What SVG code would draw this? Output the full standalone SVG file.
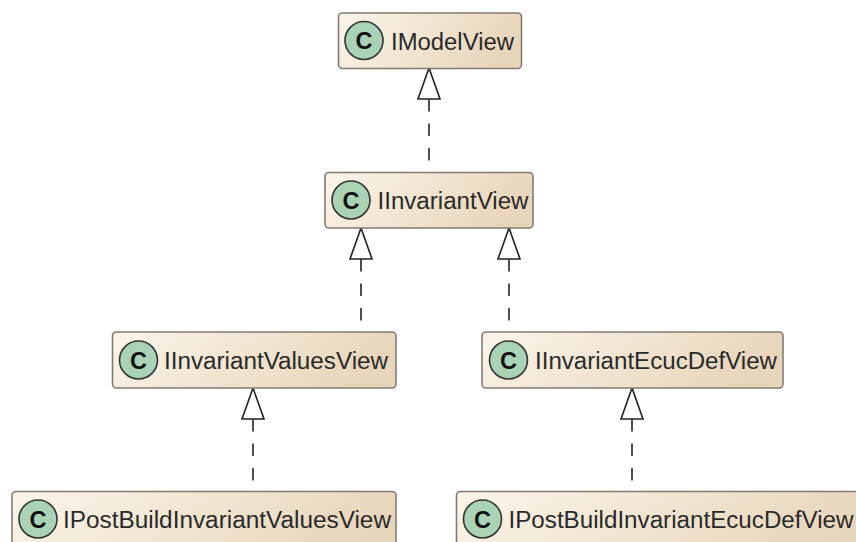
<svg xmlns="http://www.w3.org/2000/svg" width="856" height="542" viewBox="0 0 856 542">
<style>
.box{stroke:#857a72;stroke-width:1.6}
.c{fill:#a9d3b4;stroke:#333;stroke-width:1.6}
.g{font-family:"Liberation Sans",Arial,sans-serif;font-size:23.500px;font-weight:700;fill:#111;text-anchor:middle}
.t{font-family:"Liberation Sans",Arial,sans-serif;font-size:23.500px;fill:#2a2a2a}
.dash{fill:none;stroke:#222;stroke-width:1.6;stroke-dasharray:12.500 12}
.head{fill:#fff;stroke:#222;stroke-width:1.6}
</style>
<defs>
<linearGradient id="fill" x1="0" y1="0" x2="1" y2="0.25"><stop offset="0" stop-color="#fbf5ea"/><stop offset="1" stop-color="#e8d6bc"/></linearGradient>
</defs>
<g id="connectors">
<path class="dash" d="M429 99V162"/><path class="head" d="M429 68L418 99H440Z"/>
<path class="dash" d="M361 259V322"/><path class="head" d="M361 228L350 259H372Z"/>
<path class="dash" d="M509 259V322"/><path class="head" d="M509 228L498 259H520Z"/>
<path class="dash" d="M253 419V482"/><path class="head" d="M253 388L242 419H264Z"/>
<path class="dash" d="M632 419V482"/><path class="head" d="M632 388L621 419H643Z"/>
</g>
<g id="IModelView"><rect class="box" x="338.500" y="13" width="183" height="55.500" rx="4" fill="url(#fill)"/><circle class="c" cx="364" cy="40.500" r="19"/><text class="g" x="364" y="49">C</text><text class="t" x="391" y="49.500" textLength="123" lengthAdjust="spacingAndGlyphs">IModelView</text></g>
<g id="IInvariantView"><rect class="box" x="325" y="172.500" width="208" height="55.500" rx="4" fill="url(#fill)"/><circle class="c" cx="351" cy="200" r="19"/><text class="g" x="351" y="208.500">C</text><text class="t" x="377.500" y="209" textLength="151" lengthAdjust="spacingAndGlyphs">IInvariantView</text></g>
<g id="IInvariantValuesView"><rect class="box" x="112.500" y="332" width="283.500" height="56" rx="4" fill="url(#fill)"/><circle class="c" cx="138.500" cy="360" r="19"/><text class="g" x="138.500" y="368.500">C</text><text class="t" x="164" y="369" textLength="224" lengthAdjust="spacingAndGlyphs">IInvariantValuesView</text></g>
<g id="IInvariantEcucDefView"><rect class="box" x="482" y="332" width="301" height="56" rx="4" fill="url(#fill)"/><circle class="c" cx="508.500" cy="360" r="19"/><text class="g" x="508.500" y="368.500">C</text><text class="t" x="535" y="369" textLength="242" lengthAdjust="spacingAndGlyphs">IInvariantEcucDefView</text></g>
<g id="IPostBuildInvariantValuesView"><rect class="box" x="12" y="491.500" width="384" height="70" rx="4" fill="url(#fill)"/><circle class="c" cx="38" cy="519" r="19"/><text class="g" x="38" y="527.500">C</text><text class="t" x="63" y="528" textLength="328" lengthAdjust="spacingAndGlyphs">IPostBuildInvariantValuesView</text></g>
<g id="IPostBuildInvariantEcucDefView"><rect class="box" x="456.500" y="491.500" width="410" height="70" rx="4" fill="url(#fill)"/><circle class="c" cx="482.500" cy="519" r="19"/><text class="g" x="482.500" y="527.500">C</text><text class="t" x="508.500" y="528" textLength="345" lengthAdjust="spacingAndGlyphs">IPostBuildInvariantEcucDefView</text></g>
</svg>
